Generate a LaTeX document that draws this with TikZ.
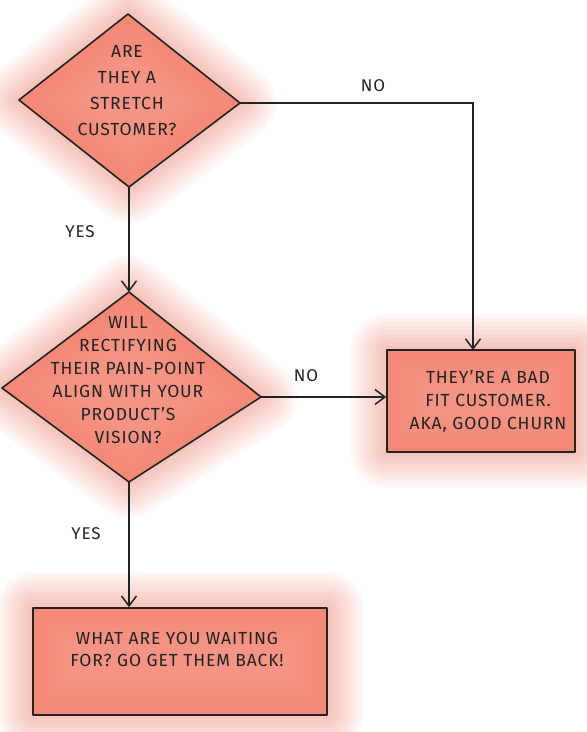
\documentclass[tikz,border=0pt]{standalone}
\usepackage{fontspec}
\setmainfont{Fira Sans}[LetterSpace=5]
\usetikzlibrary{arrows.meta}
\definecolor{wash}{RGB}{243,122,102}
\definecolor{ink}{RGB}{35,35,35}
\begin{document}
\begin{tikzpicture}[x=1pt,y=-1pt,
  edge/.style={draw=ink,line width=1.6pt,-{Straight Barb[length=10pt,width=15pt,line width=1.5pt]}},
  outline/.style={draw=ink,line width=1.6pt,line join=round},
  txt/.style={font=\fontsize{17.5}{23}\selectfont,align=center,text=ink,inner sep=0pt},
  lbl/.style={font=\fontsize{17}{18}\selectfont,text=ink,inner sep=0pt},
  halo/.style={draw=wash,opacity=0.055,line join=round,line width=#1}]
\useasboundingbox[fill=white] (0,0) rectangle (587,732);
% corners
\coordinate (d1t) at (128,14);  \coordinate (d1r) at (240,103);
\coordinate (d1b) at (129,187); \coordinate (d1l) at (19,100);
\coordinate (d2t) at (129,292); \coordinate (d2r) at (261,397);
\coordinate (d2b) at (129,482); \coordinate (d2l) at (2,388);
% watercolour washes
\foreach \w in {72,64,56,48,40,32,24,16,8}{
  \path[halo=\w pt] (d1t) -- (d1r) -- (d1b) -- (d1l) -- cycle;
  \path[halo=\w pt] (d2t) -- (d2r) -- (d2b) -- (d2l) -- cycle;
  \path[halo=\w pt] (387,350) rectangle (575,452);
  \path[halo=\w pt] (33,608) rectangle (327,715);
}
\path[fill=wash,opacity=0.8] (d1t) -- (d1r) -- (d1b) -- (d1l) -- cycle;
\path[fill=wash,opacity=0.8] (d2t) -- (d2r) -- (d2b) -- (d2l) -- cycle;
\path[fill=wash,opacity=0.8] (387,350) rectangle (575,452);
\path[fill=wash,opacity=0.8] (33,608) rectangle (327,715);
% outlines
\draw[outline] (d1t) -- (d1r) -- (d1b) -- (d1l) -- cycle;
\draw[outline] (d2t) -- (d2r) -- (d2b) -- (d2l) -- cycle;
\node[outline,minimum width=188pt,minimum height=102pt,inner sep=0pt] (b2) at (481,401) {};
\node[outline,minimum width=294pt,minimum height=107pt,inner sep=0pt] (b3) at (180,661.5) {};
% texts
\node[txt,font=\fontsize{17.5}{26}\selectfont] (q1) at (127,91) {ARE\\THEY A\\STRETCH\\CUSTOMER?};
\node[txt] (q2) at (128,380) {WILL\\RECTIFYING\\THEIR PAIN-POINT\\ALIGN WITH YOUR\\PRODUCT'S\\VISION?};
\node[txt] (t2) at (488,401) {THEY'RE A BAD\\FIT CUSTOMER.\\AKA, GOOD CHURN};
\node[txt,font=\fontsize{17.5}{22}\selectfont] (t3) at (177,649) {WHAT ARE YOU WAITING\\FOR? GO GET THEM BACK!};
% connectors
\coordinate (b2in) at (473,350);
\draw[edge] (d1r) -| (b2in);
\draw[edge] (d1b) -- (d2t);
\draw[edge] (d2r) -- (d2r -| b2.west);
\draw[edge] (d2b) -- (d2b |- b3.north);
% labels
\node[lbl] (no1) at (373,86) {NO};
\node[lbl] (yes1) at (80,232) {YES};
\node[lbl] (no2) at (306,376) {NO};
\node[lbl] (yes2) at (86,534) {YES};
\end{tikzpicture}
\end{document}
